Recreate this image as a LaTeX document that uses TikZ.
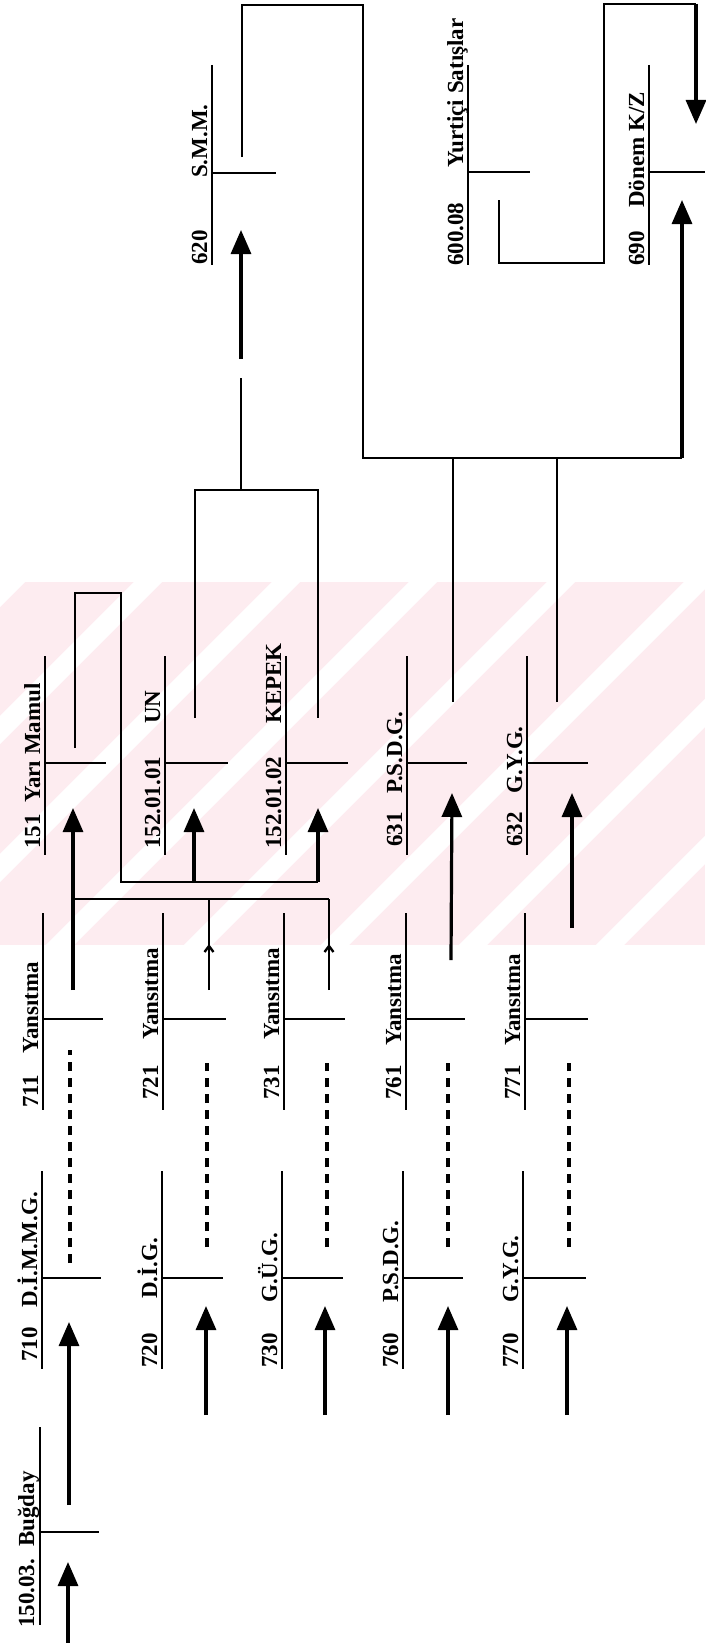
\documentclass[tikz,border=0pt]{standalone}
\usepackage{fontspec}
\setmainfont{Liberation Serif}
\usetikzlibrary{arrows.meta}
\definecolor{wm}{RGB}{253,236,240}
\newcommand\tacct[6]{%
  \draw[tline] (#2,#3) coordinate (#1-top) -- (#2,#4) coordinate (#1-bot);
  \draw[tline] (#2,#5) coordinate (#1-stub) -- (#6,#5) coordinate (#1-end);
}
\begin{document}
\begin{tikzpicture}[x=1pt,y=-1pt,
  tline/.style={line width=2.7pt},
  conn/.style={line width=2.7pt,line join=miter},
  arr/.style={line width=3.2pt,-{Triangle[length=24pt,width=20pt]}},
  smallarr/.style={line width=2.4pt,-{Straight Barb[length=6pt,width=9pt]}},
  dashline/.style={line width=3.2pt,dash pattern=on 9pt off 7pt},
  lbl/.style={rotate=90,anchor=base west,inner sep=0pt,font=\bfseries\fontsize{23}{26}\selectfont},
  ]
\useasboundingbox (0,0) rectangle (705,1643);
% watermark
\begin{scope}
\clip (0,582) rectangle (705,945);
\fill[wm] (0,582) rectangle (705,945);
\foreach \c in {455,593,730,868,1005,1143,1280,1418,1555,1693}
  \draw[white,line width=20pt] (\c-500,500) -- (\c-1000,1000);
\end{scope}
% T accounts
\tacct{a620}{212}{65}{265}{173}{276}
\tacct{a600}{468}{65}{265}{172}{530}
\tacct{a690}{649}{65}{265}{172}{705}
\tacct{a151}{45}{656}{855}{763}{106}
\tacct{a15201}{165}{656}{855}{763}{228}
\tacct{a15202}{286}{656}{855}{763}{348}
\tacct{a631}{407}{656}{855}{763}{467}
\tacct{a632}{527}{656}{855}{763}{588}
\tacct{a711}{43}{913}{1110}{1019}{103}
\tacct{a721}{163}{913}{1110}{1019}{226}
\tacct{a731}{284}{913}{1110}{1019}{345}
\tacct{a761}{406}{913}{1110}{1019}{465}
\tacct{a771}{525}{913}{1110}{1019}{588}
\tacct{a710}{42}{1171}{1369}{1278}{101}
\tacct{a720}{162}{1171}{1369}{1278}{223}
\tacct{a730}{282}{1171}{1369}{1278}{343}
\tacct{a760}{403}{1171}{1369}{1278}{463}
\tacct{a770}{523}{1171}{1369}{1278}{586}
\tacct{a150}{40}{1427}{1625}{1532}{99}
% labels
\node[lbl] (t150n) at (34,1628) {150.03.};
\node[lbl] (t150m) at (34,1547) {Buğday};
\node[lbl] (t710n) at (37,1362) {710};
\node[lbl] (t710m) at (37,1308) {D.İ.M.M.G.};
\node[lbl] (t720n) at (157,1368) {720};
\node[lbl] (t720m) at (157,1299) {D.İ.G.};
\node[lbl] (t730n) at (277,1368) {730};
\node[lbl] (t730m) at (277,1303) {G.Ü.G.};
\node[lbl] (t760n) at (398,1368) {760};
\node[lbl] (t760m) at (398,1303) {P.S.D.G.};
\node[lbl] (t770n) at (518,1368) {770};
\node[lbl] (t770m) at (518,1303) {G.Y.G.};
\node[lbl] (t711n) at (38,1108) {711};
\node[lbl] (t711m) at (38,1054) {Yansıtma};
\node[lbl] (t721n) at (158,1100) {721};
\node[lbl] (t721m) at (158,1040) {Yansıtma};
\node[lbl] (t731n) at (279,1100) {731};
\node[lbl] (t731m) at (279,1040) {Yansıtma};
\node[lbl] (t761n) at (401,1100) {761};
\node[lbl] (t761m) at (401,1046) {Yansıtma};
\node[lbl] (t771n) at (520,1100) {771};
\node[lbl] (t771m) at (520,1046) {Yansıtma};
\node[lbl] (t151n) at (40,849) {151};
\node[lbl] (t151m) at (40,803) {Yarı Mamul};
\node[lbl] (t15201n) at (160,849) {152.01.01};
\node[lbl] (t15201m) at (160,724) {UN};
\node[lbl] (t15202n) at (281,849) {152.01.02};
\node[lbl] (t15202m) at (281,724) {KEPEK};
\node[lbl] (t631n) at (402,847) {631};
\node[lbl] (t631m) at (402,794) {P.S.D.G.};
\node[lbl] (t632n) at (522,847) {632};
\node[lbl] (t632m) at (522,794) {G.Y.G.};
\node[lbl] (t620n) at (207,265) {620};
\node[lbl] (t620m) at (207,178) {S.M.M.};
\node[lbl] (t600n) at (463,266) {600.08};
\node[lbl] (t600m) at (463,168) {Yurtiçi Satışlar};
\node[lbl] (t690n) at (644,266) {690};
\node[lbl] (t690m) at (644,208) {Dönem K/Z};
% arrows into accounts
\draw[arr] (68,1643) -- (68,1562);
\draw[arr] (69,1505) -- (69,1322);
\foreach \x in {206,325,448,567} \draw[arr] (\x,1415) -- (\x,1306);
% dashed transfers
\draw[dashline] (70,1263) -- (70,1050);
\foreach \x in {207,327,448,569} \draw[dashline] (\x,1247) -- (\x,1063);
% reflections into 151
\draw[arr] (73,990) -- (73,808);
\draw[conn] (73,899) -- (329,899);
\draw[conn] (209,990) -- (209,899);
\draw[conn] (329,990) -- (329,899);
\draw[smallarr] (209,962) -- (209,944);
\draw[smallarr] (329,962) -- (329,944);
% 151 -> UN, KEPEK
\draw[conn] (75,748) -- (75,593) -- (121,593) -- (121,882) -- (318,882);
\draw[arr] (194,882) -- (194,808);
\draw[arr] (318,882) -- (318,808);
% UN, KEPEK -> 620
\draw[conn] (195,718) -- (195,490) -- (318,490) -- (318,718);
\draw[conn] (241,490) -- (241,378);
\draw[arr] (241,359) -- (241,230);
% 620, 631, 632 -> 690
\draw[conn] (242,157) -- (242,5) -- (363,5) -- (363,458) -- (682,458);
\draw[arr] (682,458) -- (682,200);
\draw[conn] (453,702) -- (453,458);
\draw[conn] (557,702) -- (557,458);
% 761, 771 -> 631, 632
\draw[arr] (451,960) -- (452,793);
\draw[arr] (572,928) -- (572,793);
% 600.08 -> 690
\draw[conn] (499,200) -- (499,263) -- (604,263) -- (604,4) -- (696,4);
\draw[arr] (696,4) -- (696,124);
\end{tikzpicture}
\end{document}
